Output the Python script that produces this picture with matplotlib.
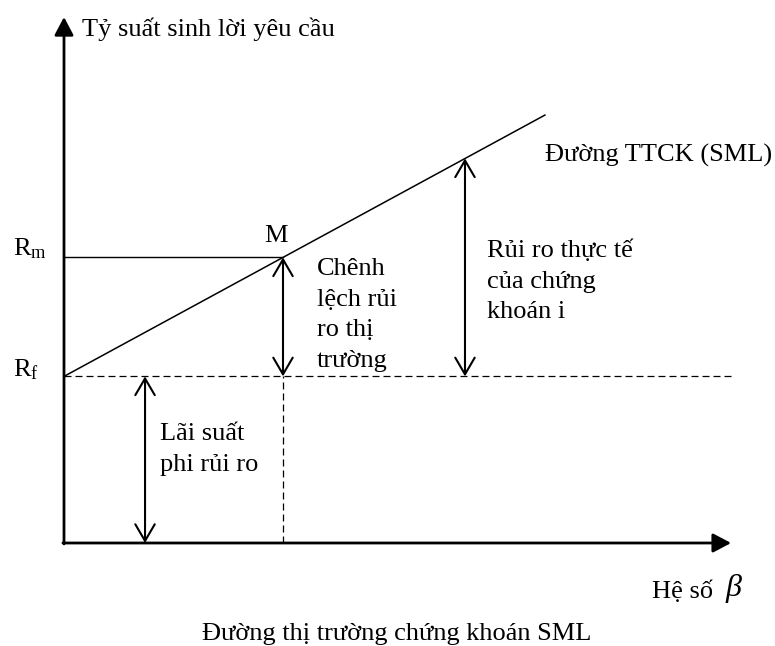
import matplotlib
matplotlib.use("Agg")
import matplotlib.pyplot as plt

plt.rcParams['font.family'] = ['Liberation Serif', 'DejaVu Serif']
plt.rcParams['mathtext.fontset'] = 'custom'
plt.rcParams['mathtext.rm'] = 'Liberation Serif'
plt.rcParams['mathtext.it'] = 'Liberation Serif:italic'

# diagram values (beta on x, required return on y)
rf = 7.0
rm = 12.0
beta_m = 1.0
sml_beta = [0.0, 2.196]
sml_ret = [7.0, 17.98]
beta_i = 1.831
ret_i = 16.16
beta_rf_arrow = 0.37
x_axis_end = 3.046
y_axis_end = 22.1
dash_end = 3.05

y_label = "Tỷ suất sinh lời yêu cầu"
x_label = "Hệ số"
sml_label = "Đường TTCK (SML)"
premium_lines = ["Chênh", "lệch rủi", "ro thị", "trường"]
risk_i_lines = ["Rủi ro thực tế", "của chứng", "khoán i"]
rf_lines = ["Lãi suất", "phi rủi ro"]
caption = "Đường thị trường chứng khoán SML"

fig = plt.figure(figsize=(7.75, 6.46), dpi=100)
ax = fig.add_axes([0, 0, 1, 1])
# origin sits at pixel (64, 543): 219 px per beta unit, 23.8 px per return unit
ax.set_xlim(-64 / 219, 711 / 219)
ax.set_ylim(-103 / 23.8, 543 / 23.8)
ax.axis('off')

axis_kw = dict(arrowstyle='-|>, head_length=0.55, head_width=0.29', color='black',
               lw=2, shrinkA=0, shrinkB=0, mutation_scale=20)
ax.annotate('', xy=(0, y_axis_end), xytext=(0, -0.04), arrowprops=axis_kw)
ax.annotate('', xy=(x_axis_end, 0), xytext=(-0.005, 0), arrowprops=axis_kw)

# SML and guide lines
ax.plot(sml_beta, sml_ret, color='black', lw=1.1)
ax.plot([0, beta_m], [rm, rm], color='black', lw=1.0)
ax.plot([0, dash_end], [rf, rf], color='black', lw=0.9, ls=(0, (5.6, 3.2)))
ax.plot([beta_m, beta_m], [0, rf], color='black', lw=0.9, ls=(0, (5.6, 3.2)))

dbl_kw = dict(arrowstyle='<->, head_length=0.6, head_width=0.35', color='black',
              lw=1.5, shrinkA=0, shrinkB=0, mutation_scale=20)
ax.annotate('', xy=(beta_m, rm), xytext=(beta_m, rf), arrowprops=dbl_kw)
ax.annotate('', xy=(beta_i, ret_i), xytext=(beta_i, rf), arrowprops=dbl_kw)
ax.annotate('', xy=(beta_rf_arrow, rf), xytext=(beta_rf_arrow, 0), arrowprops=dbl_kw)

fs = 19
step = 1.29  # line spacing in return units


def lines(x, y, rows):
    for k, row in enumerate(rows):
        ax.text(x, y - k * step, row, fontsize=fs, va='baseline', ha='left')


ax.text(0.082, 21.3, y_label, fontsize=fs, va='baseline', ha='left')
ax.text(-0.233, 12.1, r'$\mathregular{R_m}$', fontsize=fs, va='baseline', ha='left')
ax.text(-0.233, 7.02, r'$\mathregular{R_f}$', fontsize=fs, va='baseline', ha='left')
ax.text(0.968, 12.65, "M", fontsize=fs, va='baseline', ha='center')
ax.text(2.196, 16.01, sml_label, fontsize=fs, va='baseline', ha='left')
lines(1.155, 11.26, premium_lines)
lines(1.932, 12.02, risk_i_lines)
lines(0.438, 4.33, rf_lines)
ax.text(2.685, -2.31, x_label, fontsize=fs, va='baseline', ha='left')
ax.text(3.018, -2.23, r'$\beta$', fontsize=23, va='baseline', ha='left')
fig.text(397 / 775, 1 - 640 / 646, caption, fontsize=fs, va='baseline', ha='center')

fig.savefig("out.png", dpi=100)
